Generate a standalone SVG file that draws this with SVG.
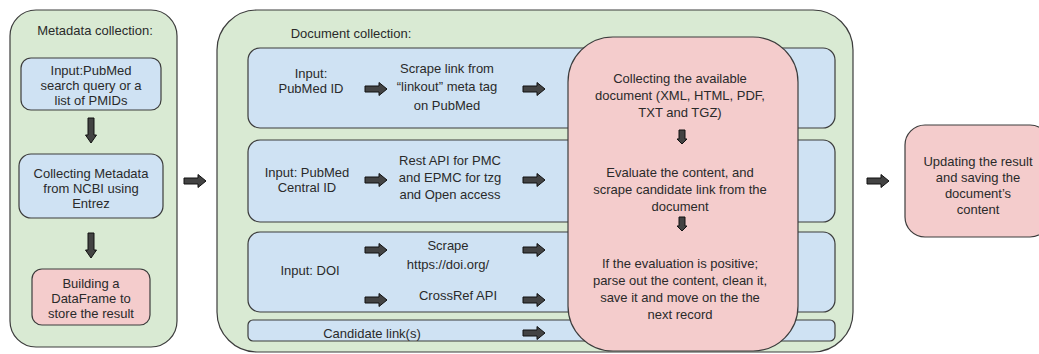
<svg xmlns="http://www.w3.org/2000/svg" width="1039" height="354" viewBox="0 0 1039 354">
<style>
.green{fill:#d9ead3;stroke:#3c3c3c;stroke-width:1.2}
.blue{fill:#cfe2f3;stroke:#3c3c3c;stroke-width:1.2}
.pink{fill:#f4cccc;stroke:#3c3c3c;stroke-width:1.2}
.arr{fill:#434343;stroke:#111;stroke-width:1}
text{font-family:"Liberation Sans",Arial,sans-serif;font-size:13px;fill:#2a2a2a;text-anchor:middle}
</style>
<defs>
<path id="ra" d="M0,-3 H14 V-6.5 L22,0 L14,6.5 V3 H0 Z"/>
<path id="da" d="M-3,0 H3 V17 H5.5 L0,25 L-5.5,17 H-3 Z"/>
<path id="sda" d="M-3,0 H3 V9 H5 L0,14 L-5,9 H-3 Z"/>
</defs>
<g id="metadata">
<rect class="green" x="10" y="10" width="167" height="337" rx="26"/>
<text x="95" y="34.5">Metadata collection:</text>
</g>
<g id="input-pubmed">
<rect class="blue" x="21" y="58" width="140" height="52" rx="10"/>
<text x="91" y="74.5">Input:PubMed</text>
<text x="91" y="89.5">search query or a</text>
<text x="91" y="104.5">list of PMIDs</text>
</g>
<g id="collect-meta">
<rect class="blue" x="19" y="154" width="144" height="64" rx="12"/>
<text x="91" y="177.5">Collecting Metadata</text>
<text x="91" y="192.5">from NCBI using</text>
<text x="91" y="207.5">Entrez</text>
</g>
<g id="dataframe">
<rect class="pink" x="32" y="269" width="118" height="56" rx="10"/>
<text x="91" y="287.5">Building a</text>
<text x="91" y="302.5">DataFrame to</text>
<text x="91" y="317.5">store the result</text>
</g>
<g id="document">
<rect class="green" x="217" y="10" width="636" height="342" rx="40"/>
<text x="351" y="37.5">Document collection:</text>
</g>
<g id="row-pubmed">
<rect class="blue" x="248" y="48" width="587" height="80" rx="12"/>
<text x="311" y="77.5">Input:</text>
<text x="311" y="92.5">PubMed ID</text>
<text x="447" y="72.5">Scrape link from</text>
<text x="447" y="91">“linkout” meta tag</text>
<text x="447" y="109.5">on PubMed</text>
</g>
<g id="row-pmc">
<rect class="blue" x="248" y="140" width="587" height="82" rx="12"/>
<text x="307" y="176.5">Input: PubMed</text>
<text x="307" y="191.5">Central ID</text>
<text x="450" y="164.5">Rest API for PMC</text>
<text x="450" y="181.5">and EPMC for tzg</text>
<text x="450" y="198.5">and Open access</text>
</g>
<g id="row-doi">
<rect class="blue" x="248" y="232" width="587" height="80" rx="12"/>
<text x="310" y="274.5">Input: DOI</text>
<text x="448" y="249.5">Scrape</text>
<text x="448" y="268.5">https://doi.org/</text>
<text x="458" y="299.5">CrossRef API</text>
</g>
<g id="row-candidate">
<rect class="blue" x="248" y="320" width="587" height="21" rx="5"/>
<text x="372" y="337.5">Candidate link(s)</text>
</g>
<g id="process">
<rect class="pink" x="568" y="37" width="230" height="314" rx="45"/>
<text x="680" y="82.5">Collecting the available</text>
<text x="680" y="99.5">document (XML, HTML, PDF,</text>
<text x="680" y="116.5">TXT and TGZ)</text>
<text x="680" y="176.5">Evaluate the content, and</text>
<text x="680" y="193.5">scrape candidate link from the</text>
<text x="680" y="210.5">document</text>
<text x="680" y="267.5">If the evaluation is positive;</text>
<text x="680" y="284.5">parse out the content, clean it,</text>
<text x="680" y="301.5">save it and move on the the</text>
<text x="680" y="318.5">next record</text>
</g>
<g id="update">
<rect class="pink" x="905" y="125" width="145" height="112" rx="20"/>
<text x="978" y="166">Updating the result</text>
<text x="978" y="182">and saving the</text>
<text x="978" y="198">document’s</text>
<text x="978" y="214">content</text>
</g>
<g id="connectors">
<use href="#da" class="arr" x="91" y="118"/>
<use href="#da" class="arr" x="91" y="233"/>
<use href="#ra" class="arr" x="184" y="181"/>
<use href="#ra" class="arr" x="365" y="89"/>
<use href="#ra" class="arr" x="523" y="89"/>
<use href="#ra" class="arr" x="365" y="180"/>
<use href="#ra" class="arr" x="523" y="180"/>
<use href="#ra" class="arr" x="365" y="250"/>
<use href="#ra" class="arr" x="523" y="250"/>
<use href="#ra" class="arr" x="365" y="300"/>
<use href="#ra" class="arr" x="523" y="300"/>
<use href="#ra" class="arr" x="523" y="333"/>
<use href="#sda" class="arr" x="682" y="130"/>
<use href="#sda" class="arr" x="682" y="217"/>
<use href="#ra" class="arr" x="867" y="181"/>
</g>
</svg>
